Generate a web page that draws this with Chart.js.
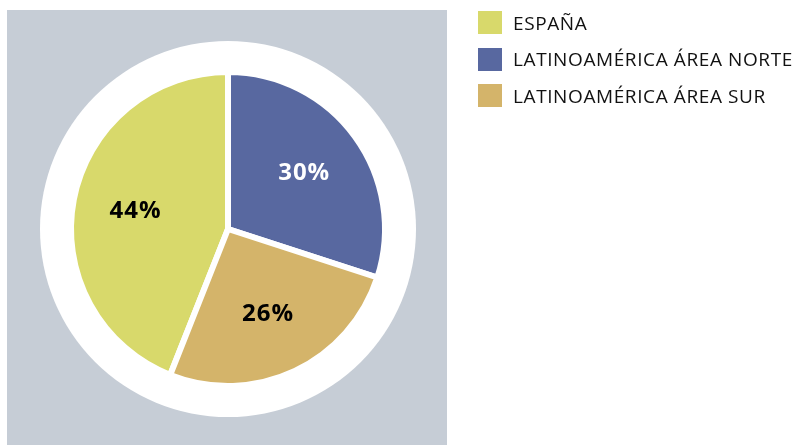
<!DOCTYPE html>
<html>
<head>
<meta charset="utf-8">
<script src="https://cdn.jsdelivr.net/npm/chart.js@4"></script>
<style>
    html, body { margin: 0; padding: 0; background: #fff; }
    #wrap { position: relative; width: 800px; height: 445px; }
    #chart { position: absolute; left: 0; top: 0; }
    #legend { position: absolute; left: 478px; top: 11px; margin: 0; padding: 0; list-style: none;
        font-family: "Open Sans", sans-serif; font-size: 19px; letter-spacing: 0.6px; color: #111; white-space: nowrap; }
    #legend li { display: flex; align-items: center; height: 23px; margin-bottom: 13.7px; }
    #legend span.box { display: inline-block; width: 24px; height: 23px; margin-right: 11px; }
</style>
</head>
<body>
<div id="wrap">
    <canvas id="chart" width="800" height="445"></canvas>
    <ul id="legend"></ul>
</div>
<script>
const categories = ['ESPAÑA', 'LATINOAMÉRICA ÁREA NORTE', 'LATINOAMÉRICA ÁREA SUR'];
const shares = [44, 30, 26];
const sliceColors = ['#d8d96b', '#5868a0', '#d4b46a'];
const labelColors = ['#000000', '#ffffff', '#000000'];

// grey panel + white disc behind the pie
const backdrop = {
    id: 'backdrop',
    beforeDraw(chart) {
        const ctx = chart.ctx;
        const arc = chart.getDatasetMeta(0).data[0];
        ctx.save();
        ctx.fillStyle = '#c6cdd6';
        ctx.fillRect(7, 10, 440, 435);
        ctx.fillStyle = '#ffffff';
        ctx.beginPath();
        ctx.arc(arc.x, arc.y, arc.outerRadius + 31, 0, Math.PI * 2);
        ctx.fill();
        ctx.restore();
    }
};

// percentage labels inside slices
const sliceLabels = {
    id: 'sliceLabels',
    afterDatasetsDraw(chart) {
        const ctx = chart.ctx;
        ctx.save();
        ctx.font = 'bold 24px "Open Sans", sans-serif';
        ctx.letterSpacing = '1px';
        ctx.textAlign = 'center';
        ctx.textBaseline = 'middle';
        chart.getDatasetMeta(0).data.forEach((arc, i) => {
            const mid = (arc.startAngle + arc.endAngle) / 2;
            const r = arc.outerRadius * 0.6;
            ctx.fillStyle = labelColors[i];
            ctx.fillText(shares[i] + '%', arc.x + Math.cos(mid) * r, arc.y + Math.sin(mid) * r);
        });
        ctx.restore();
    }
};

const config = {
    type: 'pie',
    data: {
        labels: categories,
        datasets: [{
            data: shares,
            backgroundColor: sliceColors,
            borderColor: '#ffffff',
            borderWidth: 6,
            hoverOffset: 0
        }]
    },
    options: {
        responsive: false,
        animation: false,
        rotation: -shares[0] * 3.6,
        layout: { padding: { left: 68, top: 69, right: 412, bottom: 56 } },
        plugins: {
            legend: { display: false },
            tooltip: { enabled: false }
        }
    },
    plugins: [backdrop, sliceLabels]
};

new Chart(document.getElementById('chart'), config);

// legend
const legendEl = document.getElementById('legend');
categories.forEach((name, i) => {
    const li = document.createElement('li');
    const box = document.createElement('span');
    box.className = 'box';
    box.style.background = sliceColors[i];
    li.appendChild(box);
    li.appendChild(document.createTextNode(name));
    legendEl.appendChild(li);
});
</script>
</body>
</html>
